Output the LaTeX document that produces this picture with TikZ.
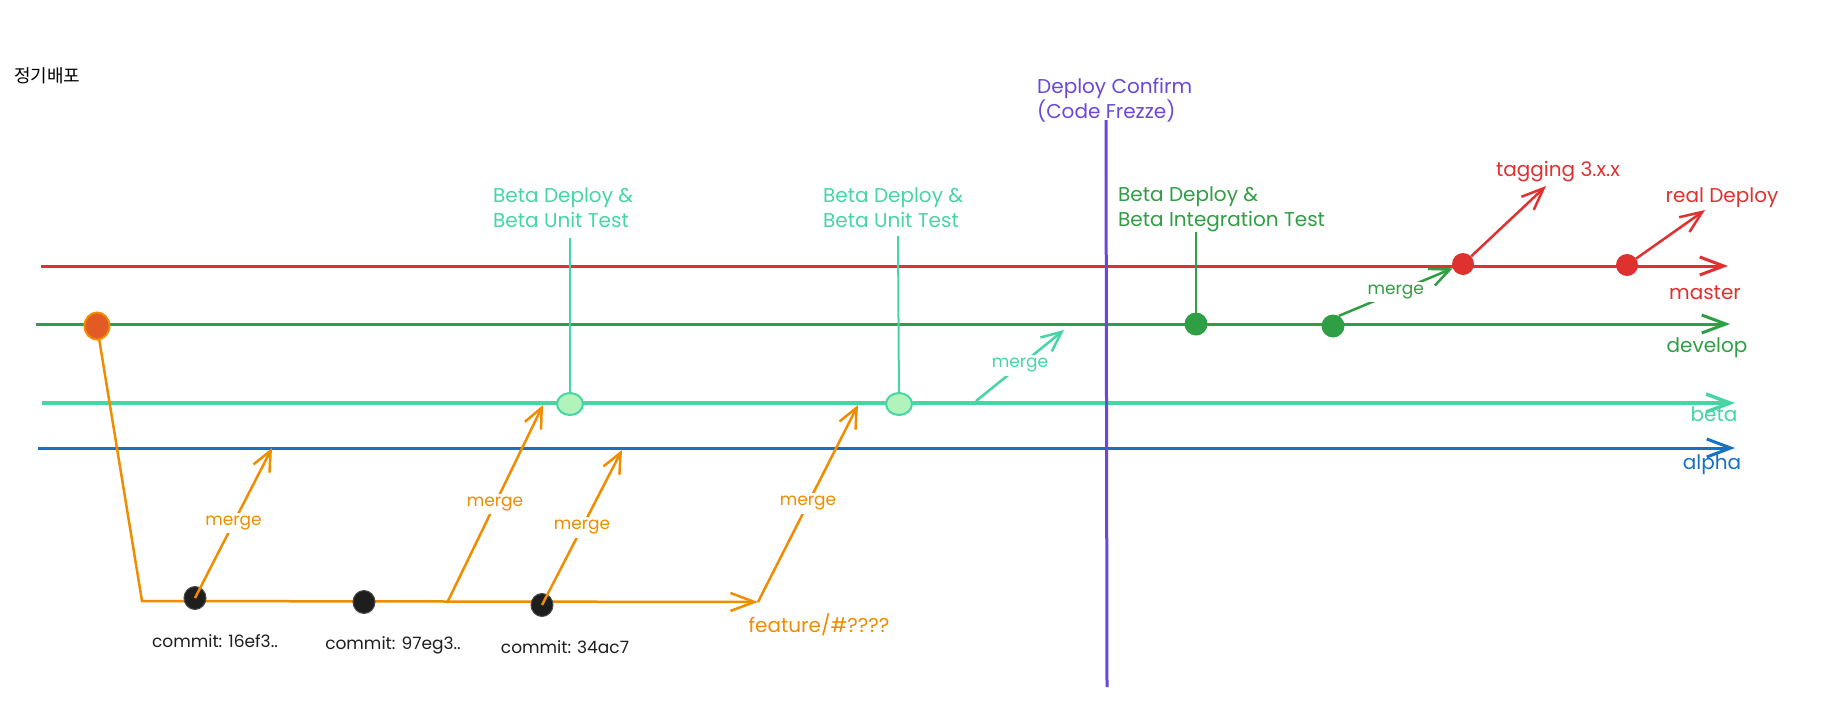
\documentclass[tikz,border=0pt]{standalone}
\usepackage{fontspec}
\setmainfont{Poppins}
\newfontfamily\krfont{Noto Sans CJK KR}
\usetikzlibrary{arrows.meta,shapes.geometric}
\pgfdeclarelayer{bg}
\pgfdeclarelayer{paper}
\pgfsetlayers{paper,bg,main}
\definecolor{cred}{HTML}{E03131}
\definecolor{cgreen}{HTML}{2F9E44}
\definecolor{cteal}{HTML}{46D6A4}
\definecolor{ctealfill}{HTML}{B2F2BB}
\definecolor{cblue}{HTML}{1971C2}
\definecolor{corange}{HTML}{F08C00}
\definecolor{codot}{HTML}{E35B24}
\definecolor{cpurple}{HTML}{6C47DD}
\definecolor{cblack}{HTML}{1E1E1E}
\tikzset{
  branchline/.style={line width=3pt, -{Straight Barb[length=24pt,width=18pt]}},
  lbl/.style={font=\fontsize{20}{25}\selectfont, align=left, inner sep=0pt},
  mlabel/.style={font=\fontsize{17}{20}\selectfont, text=corange, fill=white, inner sep=3pt},
  mergearrow/.style={line width=2.5pt, corange, -{Straight Barb[length=20pt,width=18pt]}},
  tagarrow/.style={line width=2.5pt, cred, -{Straight Barb[length=22pt,width=18pt]}},
  cdot/.style={ellipse, minimum width=22pt, minimum height=23pt, inner sep=0pt, fill=cblack, draw=cblack!80, line width=1pt},
  tdot/.style={ellipse, minimum width=26pt, minimum height=22pt, inner sep=0pt, fill=ctealfill, draw=cteal, line width=2pt},
  gdot/.style={circle, minimum size=23pt, inner sep=0pt, fill=cgreen},
  rdot/.style={circle, minimum size=22pt, inner sep=0pt, fill=cred},
  odotst/.style={ellipse, minimum width=25pt, minimum height=27pt, inner sep=0pt, fill=codot, draw=corange, line width=2pt},
  commitlbl/.style={font=\fontsize{17}{20}\selectfont, text=cblack, inner sep=0pt},
  vline/.style={line width=2pt}
}
\begin{document}
\begin{tikzpicture}[x=1pt,y=-1pt]
\begin{pgfonlayer}{paper}
\fill[white] (0,0) rectangle (1821,713);
\end{pgfonlayer}
\useasboundingbox (0,0) rectangle (1821,713);

% branch line ends
\coordinate (ms) at (41,266);  \coordinate (me) at (1728,266);
\coordinate (ds) at (36,324);  \coordinate (de) at (1730,324);
\coordinate (bs) at (42,403);  \coordinate (be) at (1735,403);
\coordinate (as) at (38,448);  \coordinate (ae) at (1735,448);

% dots
\node[odotst] (o) at (97,326) {};
\node[cdot] (c1) at (195,598) {};
\node[cdot] (c2) at (364,602) {};
\node[cdot] (c3) at (542,605) {};
\node[tdot] (t1) at (570,404) {};
\node[tdot] (t2) at (899,404) {};
\node[gdot] (g1) at (1196,324) {};
\node[gdot] (g2) at (1333,326) {};
\node[rdot] (r1) at (1463,264) {};
\node[rdot] (r2) at (1627,265) {};

% other coordinates
\coordinate (fc) at (142,601);
\coordinate (fe) at (758,602);
\coordinate (fm2) at (447,603);
\coordinate (a1) at (272,448);
\coordinate (b2) at (543,405);
\coordinate (a3) at (622,450);
\coordinate (b4) at (858,405);
\coordinate (tm1) at (976,401);
\coordinate (tm2) at (1064,330);
\coordinate (tv1) at (570,238);
\coordinate (tv2) at (898,236);
\coordinate (gv) at (1196,232);
\coordinate (pv1) at (1106,120);
\coordinate (pv2) at (1107,687);
\coordinate (tagend) at (1546,186);
\coordinate (realend) at (1705,210);

\begin{pgfonlayer}{bg}
\draw[branchline, cred] (ms) -- (me);
\draw[branchline, cgreen] (ds) -- (de);
\draw[branchline, cteal, line width=3.5pt] (bs) -- (be);
\draw[branchline, cblue] (as) -- (ae);
\draw[line width=2.5pt, corange, -{Straight Barb[length=24pt,width=18pt]}] (o.center) -- (fc) -- (fe);
\draw[vline, cteal] (tv1) -- (t1.center);
\draw[vline, cteal] (tv2) -- (t2.center);
\draw[vline, cgreen] (gv) -- (g1.center);
\end{pgfonlayer}

% purple freeze line
\draw[line width=3pt, cpurple] (pv1) -- (pv2);

% merge arrows
\draw[mergearrow] (c1.center) -- node[mlabel]{merge} (a1);
\draw[mergearrow] (fm2) -- node[mlabel]{merge} (b2);
\draw[mergearrow] (c3.center) -- node[mlabel]{merge} (a3);
\draw[mergearrow] (fe) -- node[mlabel]{merge} (b4);
\draw[mergearrow, cteal] (tm1) -- node[mlabel, text=cteal]{merge} (tm2);
\draw[mergearrow, cgreen] (g2.60) -- node[mlabel, text=cgreen]{merge} (r1);

% tag arrows
\draw[tagarrow] (r1) -- (tagend);
\draw[tagarrow] (r2) -- (realend);

% texts
\node[anchor=west, inner sep=0pt, font=\krfont\fontsize{18}{22}\selectfont] (title) at (14,76) {정기배포};
\node[lbl, anchor=west, text=cpurple] (freeze) at (1037,100.5) {Deploy Confirm\\(Code Frezze)};
\node[lbl, anchor=west, text=cteal] (bt1) at (493,207.5) {Beta Deploy \&\\Beta Unit Test};
\node[lbl, anchor=west, text=cteal] (bt2) at (823,207.5) {Beta Deploy \&\\Beta Unit Test};
\node[lbl, anchor=west, text=cgreen] (git) at (1118,209.5) {Beta Deploy \&\\Beta Integration Test};
\node[lbl, text=cred] (tagl) at (1558,172) {tagging 3.x.x};
\node[lbl, text=cred] (reall) at (1722,198) {real Deploy};
\node[lbl, text=cred] (masterl) at (1705,293) {master};
\node[lbl, text=cgreen] (developl) at (1707,348) {develop};
\node[lbl, text=cteal] (betal) at (1714,414) {beta};
\node[lbl, text=cblue] (alphal) at (1712,465) {alpha};
\node[lbl, text=corange] (featl) at (819,625) {feature/\#????};
\node[commitlbl] (cl1) at (215,641) {commit: 16ef3..};
\node[commitlbl] (cl2) at (393,645) {commit: 97eg3..};
\node[commitlbl] (cl3) at (565,647) {commit: 34ac7};
\end{tikzpicture}
\end{document}
